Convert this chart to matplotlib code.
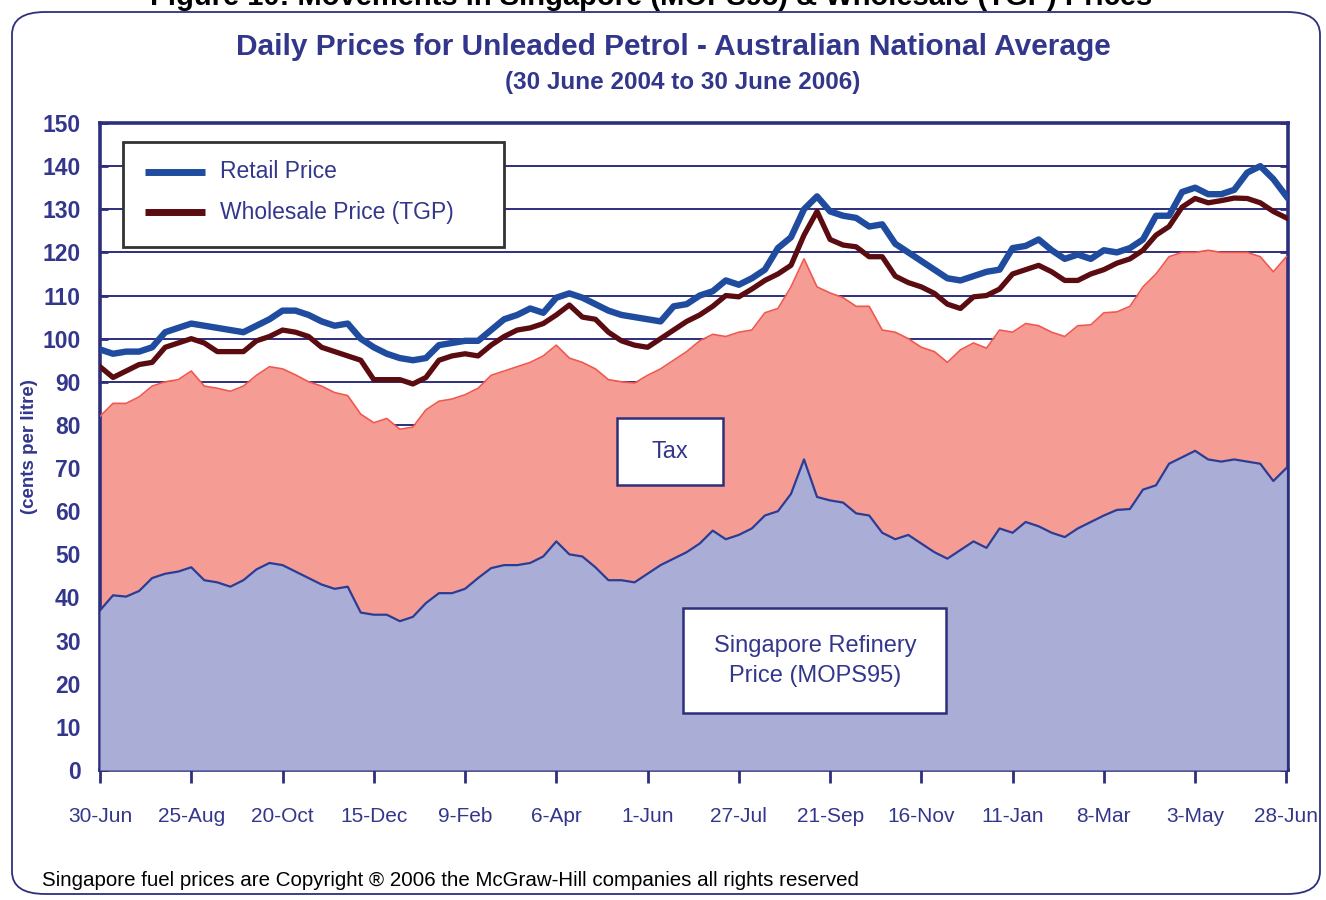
import matplotlib
matplotlib.use("Agg")
import matplotlib.pyplot as plt
from matplotlib.patches import FancyBboxPatch, Rectangle
import pandas as pd

plt.rcParams['font.family'] = ['Liberation Sans', 'DejaVu Sans']

# ---- data (cents per litre), sampled every 8 days from 30-Jun-2004 ----
start_date = "2004-06-30"
step_days = 8
retail = [97.5, 96.5, 97, 97, 98, 101.5, 102.5, 103.5, 103, 102.5,
          102, 101.5, 103, 104.5, 106.5, 106.5, 105.5, 104, 103, 103.5,
          100, 98, 96.5, 95.5, 95, 95.5, 98.5, 99, 99.5, 99.5,
          102, 104.5, 105.5, 107, 106, 109.5, 110.5, 109.5, 108, 106.5,
          105.5, 105, 104.5, 104, 107.5, 108, 110, 111, 113.5, 112.5,
          114, 116, 121, 123.5, 130, 133, 129.5, 128.5, 128, 126,
          126.5, 122, 120, 118, 116, 114, 113.5, 114.5, 115.5, 116,
          121, 121.5, 123, 120.5, 118.5, 119.5, 118.5, 120.5, 120, 121,
          123, 128.5, 128.5, 134, 135, 133.5, 133.5, 134.5, 138.5, 140,
          137, 133]
wholesale = [93.5, 91, 92.5, 94, 94.5, 98, 99, 100, 99, 97,
             97, 97, 99.5, 100.5, 102, 101.5, 100.5, 98, 97, 96,
             95, 90.5, 90.5, 90.5, 89.5, 91, 95, 96, 96.5, 96,
             98.5, 100.5, 102, 102.5, 103.5, 105.5, 107.8, 105, 104.5, 101.5,
             99.5, 98.5, 98, 100, 102, 104, 105.5, 107.5, 110, 109.7,
             111.5, 113.5, 115, 117, 124, 129.5, 123, 121.7, 121.3, 119,
             119, 114.5, 113, 112, 110.5, 108, 107, 109.7, 110, 111.5,
             115, 116, 117, 115.5, 113.5, 113.5, 115, 116, 117.5, 118.5,
             120.5, 124, 126, 130.5, 132.5, 131.5, 132, 132.6, 132.5, 131.5,
             129.5, 128]
mops_plus_tax = [82, 85, 85, 86.5, 89, 90, 90.5, 92.5, 89, 88.5,
                 87.8, 89, 91.5, 93.5, 93, 91.6, 90, 89, 87.5, 86.8,
                 82.5, 80.5, 81.5, 79, 79.5, 83.5, 85.5, 86, 87, 88.5,
                 91.5, 92.5, 93.5, 94.5, 96, 98.5, 95.5, 94.5, 93, 90.5,
                 90, 89.7, 91.5, 93, 95, 97, 99.5, 101, 100.5, 101.5,
                 102, 106, 107, 112, 118.5, 112, 110.6, 109.5, 107.5, 107.5,
                 102, 101.5, 100, 98, 97, 94.5, 97.4, 99, 97.8, 102,
                 101.5, 103.5, 103, 101.5, 100.5, 103, 103.2, 106, 106.2, 107.5,
                 112, 115, 119, 120, 120, 120.5, 120, 120, 120, 119,
                 115.5, 119]
mops95 = [37, 40.5, 40.2, 41.5, 44.5, 45.5, 46, 47, 44, 43.5,
          42.5, 44, 46.5, 48, 47.5, 46, 44.5, 43, 42, 42.5,
          36.5, 36, 36, 34.5, 35.5, 38.7, 41, 41, 42, 44.5,
          46.8, 47.5, 47.5, 48, 49.5, 53, 50, 49.5, 47, 44,
          44, 43.5, 45.5, 47.5, 49, 50.5, 52.5, 55.5, 53.5, 54.5,
          56, 59, 60, 64, 72, 63.3, 62.5, 62, 59.5, 59,
          55, 53.5, 54.5, 52.5, 50.5, 49, 51, 53, 51.5, 56,
          55, 57.5, 56.5, 55, 54, 56, 57.5, 59, 60.3, 60.5,
          65, 66, 71, 72.5, 74, 72, 71.5, 72, 71.5, 71,
          67, 70]
tick_labels = ["30-Jun", "25-Aug", "20-Oct", "15-Dec", "9-Feb", "6-Apr", "1-Jun",
               "27-Jul", "21-Sep", "16-Nov", "11-Jan", "8-Mar", "3-May", "28-Jun"]
y_ticks = list(range(0, 151, 10))
series_names = ["Retail Price", "Wholesale Price (TGP)"]

dates = pd.date_range(start_date, periods=len(retail), freq=f"{step_days}D")
tick_dates = pd.date_range(start_date, periods=len(tick_labels), freq="56D")
minor_dates = pd.date_range(start_date, periods=(len(tick_labels) - 1) * 4 + 1, freq="14D")

NAVY = "#2E2F7C"
TEXTNAVY = "#33378C"
RETAIL_C = "#1F4C9E"
WHOLE_C = "#5A0C10"

fig = plt.figure(figsize=(13.26, 9.0), dpi=100)

# outer rounded frame
frame = FancyBboxPatch((12 / 1326, 6 / 900), 1308 / 1326, 882 / 900,
                       boxstyle="round,pad=0,rounding_size=0.025",
                       transform=fig.transFigure, fill=False,
                       edgecolor=NAVY, linewidth=1.3, zorder=0)
fig.patches.append(frame)

# cut-off figure caption at very top
fig.text(0.491, 1.0 + 3 / 900, "Figure 10: Movements in Singapore (MOPS95) & Wholesale (TGP) Prices",
         ha="center", va="center", fontsize=21, fontweight="bold", color="black")

fig.text(0.508, 1 - 47 / 900, "Daily Prices for Unleaded Petrol - Australian National Average",
         ha="center", va="center", fontsize=21.5, fontweight="bold", color=TEXTNAVY)
fig.text(0.515, 1 - 82 / 900, "(30 June 2004 to 30 June 2006)",
         ha="center", va="center", fontsize=17.5, fontweight="bold", color=TEXTNAVY)

ax = fig.add_axes([100 / 1326, 1 - 770 / 900, (1288 - 100) / 1326, (770 - 123) / 900])

# grid
for y in y_ticks[1:]:
    ax.axhline(y, color=NAVY, linewidth=1.4, zorder=1)

ax.fill_between(dates, mops95, mops_plus_tax, color="#F59D94", linewidth=0, zorder=2)
ax.plot(dates, mops_plus_tax, color="#F0584E", linewidth=1.2, zorder=3)
ax.fill_between(dates, 0, mops95, color="#AAADD6", linewidth=0, zorder=3)
ax.plot(dates, mops95, color="#2B3C94", linewidth=1.6, zorder=4)

ax.plot(dates, wholesale, color=WHOLE_C, linewidth=3.8, zorder=5, solid_joinstyle="round")
ax.plot(dates, retail, color=RETAIL_C, linewidth=4.6, zorder=6, solid_joinstyle="round")

ax.set_xlim(dates[0], dates[-1] + pd.Timedelta(days=1))
ax.set_ylim(0, 150)
ax.set_yticks(y_ticks)
ax.set_yticklabels([str(v) for v in y_ticks], fontsize=16.5, fontweight="bold", color=TEXTNAVY)
ax.set_xticks(tick_dates)
ax.set_xticklabels(tick_labels, fontsize=15, color=TEXTNAVY)
ax.set_xticks(minor_dates, minor=True)
ax.tick_params(axis="x", which="major", direction="out", length=9, width=2, color=NAVY, pad=18)
ax.tick_params(axis="x", which="minor", direction="in", length=5, width=1.5, color=NAVY)
ax.tick_params(axis="y", which="major", direction="in", length=6, width=2, color=NAVY,
               right=True, pad=14)
for s in ax.spines.values():
    s.set_color(NAVY)
    s.set_linewidth(2.6)
ax.set_ylabel("(cents per litre)", fontsize=13.5, fontweight="bold", color=TEXTNAVY)
ax.yaxis.set_label_coords(-0.052, 0.5)

# legend box (axes-fraction coordinates)
ax.add_patch(Rectangle((0.0194, 0.8083), 0.3207, 0.1623, transform=ax.transAxes,
                       facecolor="white", edgecolor="#333333", linewidth=2, zorder=8))
for name, col, yy in zip(series_names, [RETAIL_C, WHOLE_C], [0.9243, 0.8624]):
    ax.plot([0.0379, 0.0884], [yy, yy], transform=ax.transAxes, color=col,
            linewidth=5, solid_capstyle="butt", zorder=9)
    ax.text(0.1010, yy, name, transform=ax.transAxes, ha="left", va="center",
            fontsize=16.5, color=TEXTNAVY, zorder=9)

# annotation boxes
ax.add_patch(Rectangle((0.4352, 0.4405), 0.0892, 0.1036, transform=ax.transAxes,
                       facecolor="white", edgecolor=NAVY, linewidth=1.8, zorder=10))
ax.text(0.4798, 0.4915, "Tax", transform=ax.transAxes, ha="center", va="center",
        fontsize=17, color=TEXTNAVY, zorder=11)
ax.add_patch(Rectangle((0.4907, 0.0881), 0.2214, 0.1623, transform=ax.transAxes,
                       facecolor="white", edgecolor=NAVY, linewidth=1.8, zorder=10))
ax.text(0.6019, 0.1685, "Singapore Refinery\nPrice (MOPS95)", transform=ax.transAxes,
        ha="center", va="center", fontsize=17, color=TEXTNAVY, linespacing=1.45, zorder=11)

fig.text(42 / 1326, 1 - 880 / 900,
         "Singapore fuel prices are Copyright \u00ae 2006 the McGraw-Hill companies all rights reserved",
         ha="left", va="center", fontsize=14.8, color="black")

fig.savefig("out.png", dpi=100)
